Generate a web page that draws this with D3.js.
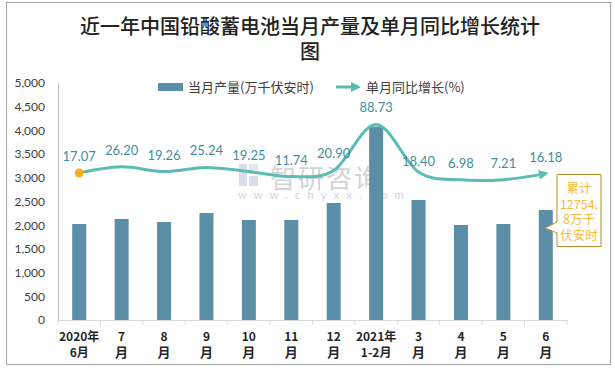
<!DOCTYPE html>
<html><head><meta charset="utf-8">
<script src="https://cdn.jsdelivr.net/npm/d3@7"></script>
<style>
html,body{margin:0;padding:0;background:#fff;}
svg{display:block;}
</style></head>
<body>
<svg id="chart" width="615" height="368"></svg>
<script>
const categories = [["2020年","6月"],["7","月"],["8","月"],["9","月"],["10","月"],["11","月"],["12","月"],["2021年","1-2月"],["3","月"],["4","月"],["5","月"],["6","月"]];
const production = [2025, 2131, 2067, 2257, 2110, 2110, 2468, 4078, 2532, 2004, 2025, 2321];
const growth = [17.07, 26.20, 19.26, 25.24, 19.25, 11.74, 20.90, 88.73, 18.40, 6.98, 7.21, 16.18];
const yTicks = [0, 500, 1000, 1500, 2000, 2500, 3000, 3500, 4000, 4500, 5000];
const titleLines = ["近一年中国铅酸蓄电池当月产量及单月同比增长统计", "图"];
const legendLabels = ["当月产量(万千伏安时)", "单月同比增长(%)"];
const noteLines = ["累计", "12754.", "8万千", "伏安时"];

const svg = d3.select("#chart");
const W = 615, H = 368;
const m = {left: 58, right: 567, top: 83, bottom: 320};
const numFont = "Lato, 'Noto Sans CJK SC', sans-serif";
const cjkFont = "'Noto Sans CJK SC', sans-serif";

// border
svg.append("rect").attr("x", 6.5).attr("y", 2.5).attr("width", 604).attr("height", 362)
  .attr("fill", "#fff").attr("stroke", "#a6a6a6").attr("stroke-width", 1);

// title
svg.append("g").selectAll("text").data(titleLines).join("text")
  .attr("x", 310).attr("y", (d, i) => 34 + i * 25)
  .attr("text-anchor", "middle").attr("font-family", cjkFont)
  .attr("font-size", 20).attr("font-weight", 500).attr("fill", "#222")
  .text(d => d);

const x = d3.scaleBand().domain(d3.range(categories.length)).range([m.left, m.right]).paddingInner(0).paddingOuter(0);
const y = d3.scaleLinear().domain([0, 5000]).range([m.bottom, m.top]);
const y2 = d3.scaleLinear().domain([-200, 150]).range([m.bottom, m.top]);

// y axis
const yAxis = svg.append("g").attr("transform", `translate(${m.left},0)`)
  .call(d3.axisLeft(y).tickValues(yTicks).tickSize(0).tickPadding(13).tickFormat(d3.format(",")));
yAxis.select(".domain").attr("stroke", "#bfbfbf");
yAxis.selectAll("text").attr("font-family", numFont).attr("font-size", 12).attr("fill", "#404040");

// watermark
const wm = svg.append("g").attr("opacity", 0.55);
wm.append("rect").attr("x", 239).attr("y", 164).attr("width", 8).attr("height", 22).attr("fill", "#b7c4d8");
wm.append("rect").attr("x", 249).attr("y", 164).attr("width", 9).attr("height", 10).attr("fill", "#d0d8e4");
wm.append("rect").attr("x", 249).attr("y", 176).attr("width", 9).attr("height", 10).attr("fill", "#b7c4d8");
wm.append("text").attr("x", 270).attr("y", 188).attr("font-family", cjkFont).attr("font-size", 26)
  .attr("fill", "#b0b0b0").attr("letter-spacing", 2).text("智研咨询");
wm.append("text").attr("x", 238).attr("y", 199).attr("font-family", numFont).attr("font-size", 11)
  .attr("fill", "#b0b0b0").attr("letter-spacing", 7.2).text("www.chyxx.com");

// bars
const bw = 14;
svg.append("g").selectAll("rect").data(production).join("rect")
  .attr("x", (d, i) => x(i) + x.bandwidth() / 2 - bw / 2)
  .attr("y", d => y(d)).attr("width", bw).attr("height", d => y(0) - y(d))
  .attr("fill", "#5b8fa8");

// x axis
const xAxis = svg.append("g").attr("transform", `translate(0,${m.bottom})`)
  .call(d3.axisBottom(x).tickSize(0).tickFormat(""));
xAxis.select(".domain").attr("stroke", "#d9d9d9");
const bounds = d3.range(categories.length + 1).map(i => m.left + i * x.bandwidth());
svg.append("g").selectAll("line").data(bounds).join("line")
  .attr("x1", d => d).attr("x2", d => d).attr("y1", m.bottom).attr("y2", m.bottom + 5)
  .attr("stroke", "#d9d9d9");
const xl = svg.append("g").selectAll("text").data(categories).join("text")
  .attr("text-anchor", "middle").attr("font-family", cjkFont).attr("font-size", 12)
  .attr("font-weight", 700).attr("fill", "#262626");
xl.each(function(d, i) {
  const t = d3.select(this);
  d.forEach((s, j) => {
    t.append("tspan").attr("x", x(i) + x.bandwidth() / 2 + (j === 0 && s.length > 2 ? 0 : 0))
      .attr("y", 341 + j * 16).attr("font-size", j === 1 ? (s.length > 1 ? 12 : 13) : 12).text(s);
  });
});

// line
const color = "#5cbcb4";
const defs = svg.append("defs");
defs.append("marker").attr("id", "arrow").attr("viewBox", "0 0 10 10").attr("refX", 7).attr("refY", 5)
  .attr("markerWidth", 3.3).attr("markerHeight", 3.3).attr("orient", "auto")
  .append("path").attr("d", "M0,0 L10,5 L0,10 Z").attr("fill", color);

const pts = growth.map((v, i) => [x(i) + x.bandwidth() / 2, y2(v)]);
svg.append("path").datum(pts)
  .attr("d", d3.line().curve(d3.curveCardinal.tension(0)))
  .attr("fill", "none").attr("stroke", color).attr("stroke-width", 3)
  .attr("marker-end", "url(#arrow)");
svg.append("circle").attr("cx", pts[0][0]).attr("cy", pts[0][1]).attr("r", 4.5).attr("fill", "#f5b120");

// labels
svg.append("g").selectAll("text").data(growth).join("text")
  .attr("x", (d, i) => x(i) + x.bandwidth() / 2)
  .attr("y", (d, i) => y2(d) - (i === 8 ? 6 : 12))
  .attr("text-anchor", "middle").attr("font-family", numFont).attr("font-size", 13)
  .attr("fill", "#3f8f9c").text(d => d.toFixed(2));

// legend
svg.append("rect").attr("x", 158).attr("y", 83).attr("width", 25).attr("height", 8).attr("fill", "#5b8fa8");
svg.append("text").attr("x", 188).attr("y", 92).attr("font-family", cjkFont).attr("font-size", 13)
  .attr("fill", "#404040").text(legendLabels[0]);
svg.append("line").attr("x1", 336).attr("x2", 358).attr("y1", 87).attr("y2", 87)
  .attr("stroke", color).attr("stroke-width", 3).attr("marker-end", "url(#arrow)");
svg.append("text").attr("x", 366).attr("y", 92).attr("font-family", cjkFont).attr("font-size", 13)
  .attr("fill", "#404040").text(legendLabels[1]);

// annotation callout
const bx = 557, by = 174.5, bwid = 44, bh = 72;
const callout = `M${bx},${by} H${bx + bwid} V${by + bh} H${bx} V233 L545,228 L${bx},222 Z`;
svg.append("path").attr("d", callout).attr("fill", "#fff").attr("stroke", "#b8902a").attr("stroke-width", 1);
svg.append("g").selectAll("text").data(noteLines).join("text")
  .attr("x", bx + bwid / 2).attr("y", (d, i) => 193 + i * 15.5)
  .attr("text-anchor", "middle").attr("font-family", cjkFont).attr("font-size", 12.5)
  .attr("fill", "#f5b942").text(d => d);
</script>
</body></html>
